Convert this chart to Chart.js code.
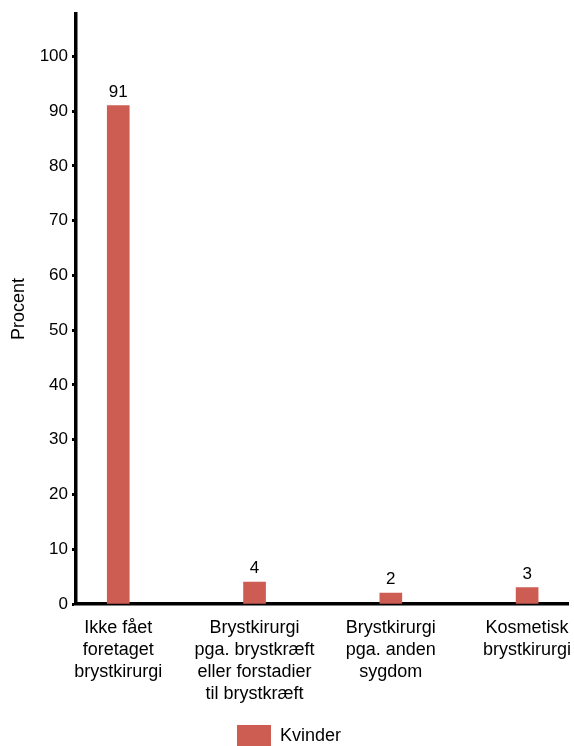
<!DOCTYPE html>
<html>
<head>
<meta charset="utf-8">
<script src="https://cdn.jsdelivr.net/npm/chart.js@4/dist/chart.umd.min.js"></script>
<style>
  html, body { margin: 0; padding: 0; background: #fff; }
  #wrap { width: 574px; height: 746px; overflow: hidden; position: relative; }
  canvas { display: block; }
</style>
</head>
<body>
<div id="wrap"><canvas id="c" width="574" height="770"></canvas></div>
<script>
const categories = [
  ["Ikke fået", "foretaget", "brystkirurgi"],
  ["Brystkirurgi", "pga. brystkræft", "eller forstadier", "til brystkræft"],
  ["Brystkirurgi", "pga. anden", "sygdom"],
  ["Kosmetisk", "brystkirurgi"]
];
const seriesName = "Kvinder";
const values = [91, 4, 2, 3];
const yTicks = [0, 10, 20, 30, 40, 50, 60, 70, 80, 90, 100];
const yAxisTitle = "Procent";

const FONT = "'Liberation Sans', Arial, sans-serif";
const BAR = "#CD5C52";

const valueLabels = {
  id: 'valueLabels',
  afterDatasetsDraw(chart) {
    const ctx = chart.ctx;
    const meta = chart.getDatasetMeta(0);
    ctx.save();
    ctx.font = "17px " + FONT;
    ctx.fillStyle = "#000";
    ctx.textAlign = "center";
    ctx.textBaseline = "alphabetic";
    meta.data.forEach((bar, i) => {
      ctx.fillText(String(values[i]), bar.x, bar.y - 9);
    });
    ctx.restore();
  }
};

const legendShift = {
  id: 'legendShift',
  afterLayout(chart) {
    if (chart.legend) { chart.legend.left += 5; chart.legend.right += 5; }
  }
};

new Chart(document.getElementById('c'), {
  type: 'bar',
  data: {
    datasets: [{
      label: seriesName,
      data: values.map((v, i) => ({ x: i, y: v })),
      backgroundColor: BAR,
      borderWidth: 0,
      barThickness: 22
    }]
  },
  options: {
    responsive: false,
    animation: false,
    layout: { padding: { top: 14, right: 6, left: 0, bottom: 13 } },
    plugins: {
      tooltip: { enabled: false },
      title: { display: false },
      legend: {
        position: 'bottom',
        labels: {
          boxWidth: 34,
          boxHeight: 22,
          padding: 10,
          color: '#000',
          font: { family: FONT, size: 18 }
        }
      }
    },
    scales: {
      x: {
        type: 'linear',
        min: -0.31,
        max: 3.3,
        offset: false,
        grid: { display: false, drawTicks: false },
        border: { display: true, color: '#000', width: 3.5 },
        afterBuildTicks: (s) => { s.ticks = categories.map((c, i) => ({ value: i })); },
        afterFit: (s) => { s.height = 111; s.paddingLeft = 0; s.paddingRight = 0; },
        ticks: {
          autoSkip: false,
          maxRotation: 0,
          minRotation: 0,
          padding: 13,
          color: '#000',
          font: { family: FONT, size: 18, lineHeight: 1.22 },
          callback: (v) => categories[v] || ''
        }
      },
      y: {
        min: 0,
        max: 107.7,
        afterBuildTicks: (s) => { s.ticks = yTicks.map(v => ({ value: v })); },
        afterFit: (s) => { s.width = 76; },
        grid: { display: true, drawOnChartArea: false, drawTicks: true, tickLength: 4, tickWidth: 3, color: '#000' },
        border: { display: true, color: '#000', width: 3.5 },
        title: {
          display: true,
          text: yAxisTitle,
          color: '#000',
          font: { family: FONT, size: 18 },
          padding: { top: 8, bottom: 0 }
        },
        ticks: {
          padding: 4,
          color: '#000',
          font: { family: FONT, size: 17 }
        }
      }
    }
  },
  plugins: [valueLabels, legendShift]
});
</script>
</body>
</html>
